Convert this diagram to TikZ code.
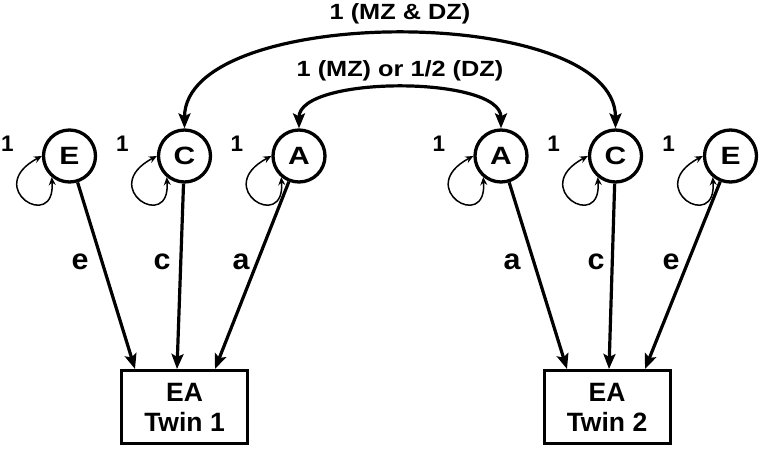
\documentclass[tikz,border=0pt]{standalone}
\usepackage{fontspec}
\setmainfont{Liberation Sans}
\newfontfamily\stretchA[FakeStretch=1.2]{Liberation Sans}
\newfontfamily\stretchB[FakeStretch=1.15]{Liberation Sans}
\newfontfamily\stretchC[FakeStretch=1.05]{Liberation Sans}
\usetikzlibrary{arrows.meta}
\tikzset{
  latent/.style={circle, draw, line width=3.3pt, minimum size=52pt, inner sep=0pt,
    font=\stretchA\bfseries\fontsize{25}{25}\selectfont},
  obs/.style={rectangle, draw, line width=3pt, minimum width=126pt, minimum height=73pt,
    inner sep=0pt, align=center, font=\bfseries\fontsize{26.5}{30}\selectfont},
  pathar/.style={line width=3.2pt, -{Stealth[length=15pt,width=12pt,inset=3pt]}},
  covar/.style={line width=3.2pt, {Stealth[length=15pt,width=12pt,inset=3pt]}-{Stealth[length=15pt,width=12pt,inset=3pt]}},
  selfloop/.style={line width=1.5pt, {Stealth[length=8pt,width=7pt]}-{Stealth[length=8pt,width=7pt]}},
  onelbl/.style={font=\bfseries\fontsize{22.5}{22.5}\selectfont, inner sep=0pt},
  coef/.style={font=\stretchC\bfseries\fontsize{29}{29}\selectfont, inner sep=0pt},
  toplbl/.style={font=\stretchB\bfseries\fontsize{22}{22}\selectfont, inner sep=0pt}
}
\begin{document}
\begin{tikzpicture}[x=1pt,y=-1pt]
\useasboundingbox (0,0) rectangle (760,448);
% latent variables
\node[latent] (E1) at (69.5,156) {E};
\node[latent] (C1) at (184.5,156) {C};
\node[latent] (A1) at (299,156) {A};
\node[latent] (A2) at (501,156) {A};
\node[latent] (C2) at (615.5,156) {C};
\node[latent] (E2) at (730.5,156) {E};
% variance labels
\node[onelbl] (oE1) at (7.5,144) {1};
\node[onelbl] (oC1) at (122.5,144) {1};
\node[onelbl] (oA1) at (237,144) {1};
\node[onelbl] (oA2) at (439,144) {1};
\node[onelbl] (oC2) at (553.5,144) {1};
\node[onelbl] (oE2) at (668.5,144) {1};
% self loops
\foreach \n in {E1,C1,A1,A2,C2,E2}{
  \draw[selfloop] (\n.230) .. controls +(4,56) and +(-60,32) .. (\n.180);
}
% observed
\node[obs] (B1) at (184.5,407) {EA\\Twin 1};
\node[obs] (B2) at (607,407) {EA\\Twin 2};
% arrow ends
\coordinate (tE1) at (135,369);
\coordinate (tC1) at (177,369);
\coordinate (tA1) at (215,369);
\coordinate (tA2) at (567,369);
\coordinate (tC2) at (609,369);
\coordinate (tE2) at (645,369);
\draw[pathar] (E1) -- (tE1);
\draw[pathar] (C1) -- (tC1);
\draw[pathar] (A1) -- (tA1);
\draw[pathar] (A2) -- (tA2);
\draw[pathar] (C2) -- (tC2);
\draw[pathar] (E2) -- (tE2);
% path labels
\node[coef] (le1) at (80,262) {e};
\node[coef] (lc1) at (162,262) {c};
\node[coef] (la1) at (241,262) {a};
\node[coef] (la2) at (512,262) {a};
\node[coef] (lc2) at (596,262) {c};
\node[coef] (le2) at (671,262) {e};
% covariances
\draw[covar] (C1.north) .. controls +(0,-125) and +(0,-125) .. (C2.north);
\draw[covar] (A1.north) .. controls +(0,-53) and +(0,-53) .. (A2.north);
\node[toplbl] (L1) at (400,14) {1 (MZ \& DZ)};
\node[toplbl] (L2) at (400,71) {1 (MZ) or 1/2 (DZ)};
\end{tikzpicture}
\end{document}
